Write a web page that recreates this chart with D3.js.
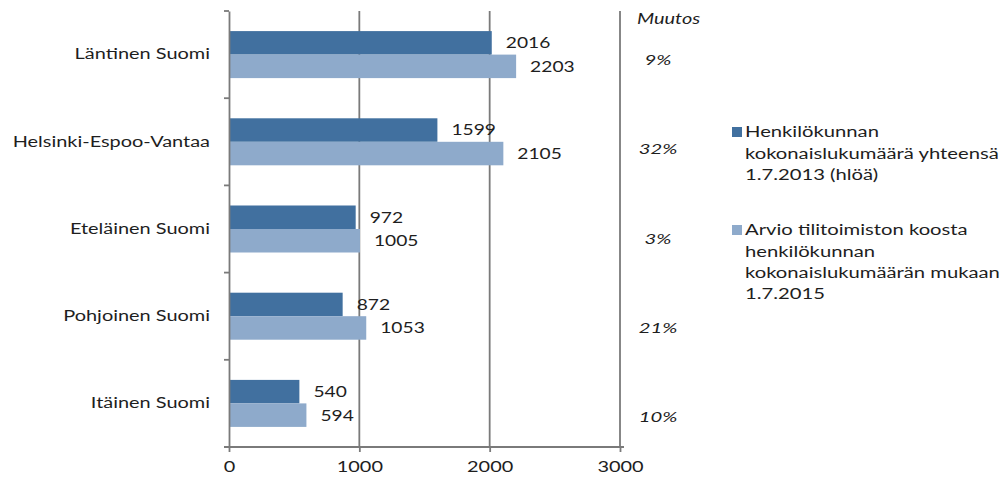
<!DOCTYPE html>
<html>
<head>
<meta charset="utf-8">
<script src="https://cdn.jsdelivr.net/npm/d3@7/dist/d3.min.js"></script>
<style>
  html, body { margin: 0; padding: 0; background: #fff; }
  svg { display: block; }
  text { font-family: Lato, "Open Sans", sans-serif; fill: #1e1e1e; }
</style>
</head>
<body>
<svg id="chart" width="1008" height="477"></svg>
<script>
// Regions, head-count 1.7.2013 and estimate for 1.7.2015
const regions = ["Läntinen Suomi", "Helsinki-Espoo-Vantaa", "Eteläinen Suomi", "Pohjoinen Suomi", "Itäinen Suomi"];
const staff2013 = [2016, 1599, 972, 872, 540];
const estimate2015 = [2203, 2105, 1005, 1053, 594];
const changeLabels = ["9%", "32%", "3%", "21%", "10%"];
const xTicks = [0, 1000, 2000, 3000];
const seriesNames = [
  ["Henkilökunnan", "kokonaislukumäärä yhteensä", "1.7.2013 (hlöä)"],
  ["Arvio tilitoimiston koosta", "henkilökunnan", "kokonaislukumäärän mukaan", "1.7.2015"]
];
const colors = ["#41709f", "#8eaacb"];

const svg = d3.select("#chart");
const plotLeft = 229, plotRight = 620, plotTop = 11, plotBottom = 447;
const FONT = 15;
const WIDE = 1.33;   // horizontal stretch of the lettering

// move x/y into a transform so the glyphs can be widened around their anchor
function widen(sel, s) {
  sel.each(function () {
    const t = d3.select(this);
    const tx = +t.attr("x") || 0, ty = +t.attr("y") || 0;
    t.attr("x", 0).attr("y", 0).attr("transform", `translate(${tx},${ty}) scale(${s},1)`);
  });
}

const x = d3.scaleLinear().domain([0, 3000]).range([plotLeft, plotRight]);
const y = d3.scaleBand().domain(regions).range([plotTop, plotBottom]).paddingInner(0).paddingOuter(0);
const inner = d3.scaleBand().domain([0, 1]).range([0, y.bandwidth()]).paddingOuter(0.855).paddingInner(0);
// the change column sits in its own text box, slightly offset from the bars
const yChange = d3.scalePoint().domain(regions).range([60, 417]);

// vertical gridlines
svg.append("g").selectAll("line").data(xTicks.slice(1)).join("line")
  .attr("x1", d => x(d)).attr("x2", d => x(d))
  .attr("y1", plotTop).attr("y2", plotBottom)
  .attr("stroke", "#7a7a7a").attr("stroke-width", 1.8);

// bars
const rows = regions.map((r, i) => ({ region: r, values: [staff2013[i], estimate2015[i]] }));
const g = svg.append("g").selectAll("g").data(rows).join("g")
  .attr("transform", d => `translate(0,${y(d.region)})`);

g.selectAll("rect").data(d => d.values.map((v, k) => ({ v, k }))).join("rect")
  .attr("x", x(0))
  .attr("y", d => inner(d.k))
  .attr("width", d => x(d.v) - x(0))
  .attr("height", inner.bandwidth())
  .attr("fill", d => colors[d.k]);

g.selectAll("text.val").data(d => d.values.map((v, k) => ({ v, k }))).join("text")
  .attr("class", "val")
  .attr("x", d => x(d.v) + 14)
  .attr("y", d => inner(d.k) + inner.bandwidth() / 2)
  .attr("dy", "0.36em")
  .attr("font-size", FONT)
  .text(d => d.v)
  .call(widen, 1.28);

// y axis
const yAxis = d3.axisLeft(y).tickSize(0).tickPadding(19);
const ya = svg.append("g").attr("transform", `translate(${plotLeft},0)`).call(yAxis);
ya.select(".domain").attr("stroke", "#7a7a7a").attr("stroke-width", 1.8);
ya.selectAll("text").attr("font-size", FONT).attr("fill", "#1e1e1e").style("font-family", "Lato")
  .call(widen, WIDE);
// category separators
svg.append("g").selectAll("line").data(d3.range(regions.length + 1)).join("line")
  .attr("x1", plotLeft - 5).attr("x2", plotLeft)
  .attr("y1", i => plotTop + i * y.step()).attr("y2", i => plotTop + i * y.step())
  .attr("stroke", "#7a7a7a").attr("stroke-width", 1.8);

// x axis
const xAxis = d3.axisBottom(x).tickValues(xTicks).tickSize(5).tickPadding(9).tickFormat(d3.format("d"));
const xa = svg.append("g").attr("transform", `translate(0,${plotBottom})`).call(xAxis);
xa.select(".domain").attr("stroke", "#7a7a7a").attr("stroke-width", 1.8).attr("d", `M${plotLeft - 5},0H${plotRight + 4}`);
xa.selectAll(".tick line").attr("stroke", "#7a7a7a").attr("stroke-width", 1.8);
xa.selectAll("text").attr("font-size", FONT).attr("fill", "#1e1e1e").style("font-family", "Lato")
  .call(widen, WIDE);

// change column
svg.append("text").attr("x", 637).attr("y", 24).attr("font-size", FONT)
  .attr("font-style", "italic").text("Muutos")
  .call(widen, WIDE);
svg.append("g").selectAll("text").data(changeLabels).join("text")
  .attr("x", 658)
  .attr("y", (d, i) => yChange(regions[i]))
  .attr("dy", "0.36em")
  .attr("text-anchor", "middle")
  .attr("font-size", 14)
  .attr("font-style", "italic")
  .text(d => d)
  .call(widen, 1.45);

// legend
const legendTop = [132, 230];
const lg = svg.append("g").selectAll("g").data(seriesNames).join("g")
  .attr("transform", (d, i) => `translate(732,${legendTop[i]})`);
lg.append("rect").attr("x", 0).attr("y", -5).attr("width", 10).attr("height", 10)
  .attr("fill", (d, i) => colors[i]);
lg.selectAll("text").data(d => d).join("text")
  .attr("x", 13).attr("y", (d, j) => j * 21.2)
  .attr("dy", "0.36em")
  .attr("font-size", FONT)
  .text(d => d)
  .call(widen, 1.35);
</script>
</body>
</html>
